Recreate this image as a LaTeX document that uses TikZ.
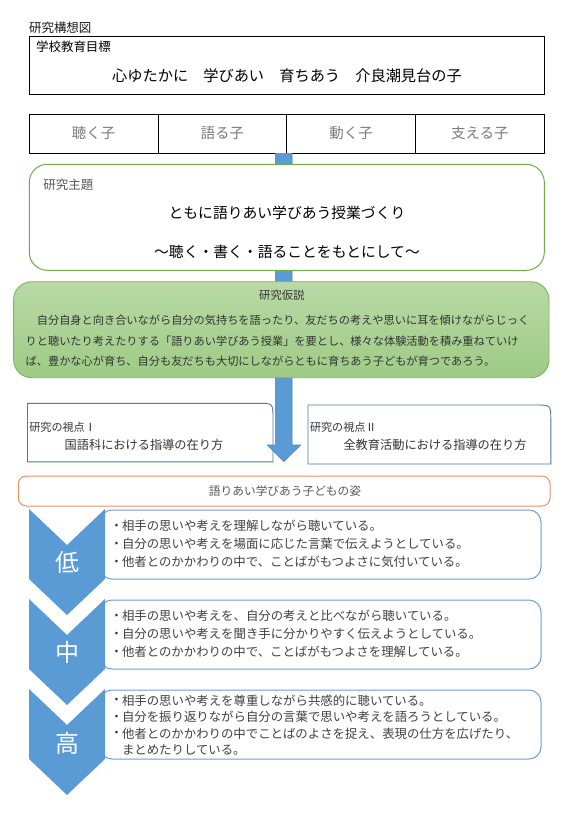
\documentclass[tikz,border=0pt]{standalone}
\usepackage{fontspec}
\setmainfont{Noto Sans CJK JP}
\usetikzlibrary{calc}
\definecolor{chev}{HTML}{5B9BD5}
\definecolor{chevdark}{HTML}{4A84C0}
\definecolor{themegreen}{HTML}{70AD47}
\definecolor{hypotop}{HTML}{B9D9A5}
\definecolor{hypobot}{HTML}{9ECB85}
\definecolor{hypoborder}{HTML}{80B560}
\definecolor{vpblue}{HTML}{4F78A8}
\definecolor{orangeb}{HTML}{F29060}
\definecolor{boxblue}{HTML}{6A9FD6}
\definecolor{cellgray}{HTML}{7A7A7A}
\definecolor{labgray}{HTML}{595959}
\definecolor{bodytext}{HTML}{404040}
\newcommand{\fsz}[1]{\fontsize{#1}{#1}\selectfont}
\begin{document}
\begin{tikzpicture}[x=1pt,y=-1pt,
  every node/.style={inner sep=0pt,outer sep=0pt},
  blackbox/.style={draw,line width=1pt,anchor=north west},
  cell/.style={blackbox,fill=white,minimum width=128.75pt,minimum height=39pt,text=cellgray,font=\fsz{14.5}},
  bodyline/.style={anchor=west,text=bodytext,font=\fsz{12.4}},
  bulletdot/.style={text=black!85,font=\fsz{10}},
  hypoline/.style={anchor=west,text=black!80,font=\fsz{11.2}},
  contentbox/.style={draw=boxblue,line width=1pt,fill=white,rounded corners=12pt,anchor=north west,minimum width=441pt,minimum height=69pt},
  chevlabel/.style={text=white,font=\fsz{24}}
]
\useasboundingbox[fill=white] (0,0) rectangle (575,815);

% title
\node[anchor=west,font=\fsz{12.5},text=black!90] (title) at (29,27.5) {研究構想図};

% school goal
\node[blackbox,minimum width=515pt,minimum height=58pt] (goal) at (29.3,36) {};
\node[anchor=west,font=\fsz{12.5}] (goallabel) at (36,47) {学校教育目標};
\node[font=\fsz{15.2}] (goaltext) at (287,76) {心ゆたかに　学びあい　育ちあう　介良潮見台の子};

% four children table
\node[cell] (c1) at (29.3,114) {聴く子};
\node[cell] (c2) at (158.05,114) {語る子};
\node[cell] (c3) at (286.8,114) {動く子};
\node[cell] (c4) at (415.55,114) {支える子};

% viewpoint boxes
\node[anchor=north west,minimum width=245.5pt,minimum height=58.5pt] (vp1) at (27.5,403.3) {};
\filldraw[fill=white,draw=vpblue,line width=0.9pt] (vp1.south west) -- (vp1.north west) -- ($(vp1.north east)+(-15,0)$) .. controls (vp1.north east) .. ($(vp1.north east)+(0,15)$) -- (vp1.south east) -- cycle;
\node[anchor=north west,minimum width=242.8pt,minimum height=59pt] (vp2) at (308,405) {};
\filldraw[fill=white,draw=vpblue,line width=0.9pt] (vp2.south west) -- (vp2.north west) -- ($(vp2.north east)+(-15,0)$) .. controls (vp2.north east) .. ($(vp2.north east)+(0,15)$) -- (vp2.south east) -- cycle;
\node[anchor=west,font=\fsz{11.1},text=black!80] (vp1title) at (29.3,427.3) {研究の視点Ⅰ};
\node[font=\fsz{12.2},text=black!80] (vp1text) at (144,445) {国語科における指導の在り方};
\node[anchor=west,font=\fsz{11.1},text=black!80] (vp2title) at (310,427.5) {研究の視点Ⅱ};
\node[font=\fsz{12.2},text=black!80] (vp2text) at (435,445) {全教育活動における指導の在り方};

% big arrow
\filldraw[fill=chev,draw=chevdark,line width=0.6pt] (275.3,153) -- (275.3,445) -- (267.3,445) -- (283.8,461.5) -- (300.7,445) -- (292,445) -- (292,153);

% research theme
\node[draw=themegreen,line width=1pt,rounded corners=18pt,fill=white,anchor=north west,minimum width=515pt,minimum height=106pt] (theme) at (29.3,164.3) {};
\node[anchor=west,font=\fsz{12.5},text=labgray] (themelabel) at (43.3,184.3) {研究主題};
\node[font=\fsz{14.8}] (theme1) at (287,213.3) {ともに語りあい学びあう授業づくり};
\node[font=\fsz{14.8}] (theme2) at (287,251.7) {～聴く・書く・語ることをもとにして～};

% hypothesis
\node[draw=hypoborder,line width=0.9pt,rounded corners=18pt,top color=hypotop,bottom color=hypobot,anchor=north west,minimum width=535.4pt,minimum height=96pt] (hypo) at (13.6,281.7) {};
\node[font=\fsz{11.3},text=black!80] (hypolabel) at (281.8,295) {研究仮説};
\node[hypoline] (hypo1) at (25.7,320) {　自分自身と向き合いながら自分の気持ちを語ったり、友だちの考えや思いに耳を傾けながらじっく};
\node[hypoline] (hypo2) at (25.7,341) {りと聴いたり考えたりする「語りあい学びあう授業」を要とし、様々な体験活動を積み重ねていけ};
\node[hypoline] (hypo3) at (25.7,361.5) {ば、豊かな心が育ち、自分も友だちも大切にしながらともに育ちあう子どもが育つであろう。};

% children figure
\node[draw=orangeb,line width=1pt,rounded corners=8pt,fill=white,anchor=north west,minimum width=531.7pt,minimum height=30pt] (figure) at (18.3,476) {};
\node[font=\fsz{11.7},text=labgray] (figuretext) at (285,491) {語りあい学びあう子どもの姿};

% low
\node[contentbox] (lowbox) at (100,510) {};
\fill[chev] (29,509) -- (67,545) -- (105,509) -- (105,579) -- (67,615) -- (29,579) -- cycle;
\node[chevlabel] (lowlab) at (67,562) {低};
\node[bulletdot] (lb1) at (116.5,526) {•};
\node[bodyline] (lt1) at (122,526) {相手の思いや考えを理解しながら聴いている。};
\node[bulletdot] (lb2) at (116.5,544) {•};
\node[bodyline] (lt2) at (122,544) {自分の思いや考えを場面に応じた言葉で伝えようとしている。};
\node[bulletdot] (lb3) at (116.5,562) {•};
\node[bodyline] (lt3) at (122,562) {他者とのかかわりの中で、ことばがもつよさに気付いている。};

% middle
\node[contentbox] (midbox) at (100,600) {};
\fill[chev] (29,599) -- (67,635) -- (105,599) -- (105,669) -- (67,705) -- (29,669) -- cycle;
\node[chevlabel] (midlab) at (67,652) {中};
\node[bulletdot] (mb1) at (116.5,616) {•};
\node[bodyline] (mt1) at (122,616) {相手の思いや考えを、自分の考えと比べながら聴いている。};
\node[bulletdot] (mb2) at (116.5,634) {•};
\node[bodyline] (mt2) at (122,634) {自分の思いや考えを聞き手に分かりやすく伝えようとしている。};
\node[bulletdot] (mb3) at (116.5,652) {•};
\node[bodyline] (mt3) at (122,652) {他者とのかかわりの中で、ことばがもつよさを理解している。};

% high
\node[contentbox] (highbox) at (100,690) {};
\fill[chev] (29,689) -- (67,725) -- (105,689) -- (105,759) -- (67,795) -- (29,759) -- cycle;
\node[chevlabel] (highlab) at (67,743) {高};
\node[bulletdot] (hb1) at (116.5,700.7) {•};
\node[bodyline] (ht1) at (122,700.7) {相手の思いや考えを尊重しながら共感的に聴いている。};
\node[bulletdot] (hb2) at (116.5,717) {•};
\node[bodyline] (ht2) at (122,717) {自分を振り返りながら自分の言葉で思いや考えを語ろうとしている。};
\node[bulletdot] (hb3) at (116.5,733.5) {•};
\node[bodyline] (ht3) at (122,733.5) {他者とのかかわりの中でことばのよさを捉え、表現の仕方を広げたり、};
\node[bodyline] (ht4) at (122,750) {まとめたりしている。};
\end{tikzpicture}
\end{document}
